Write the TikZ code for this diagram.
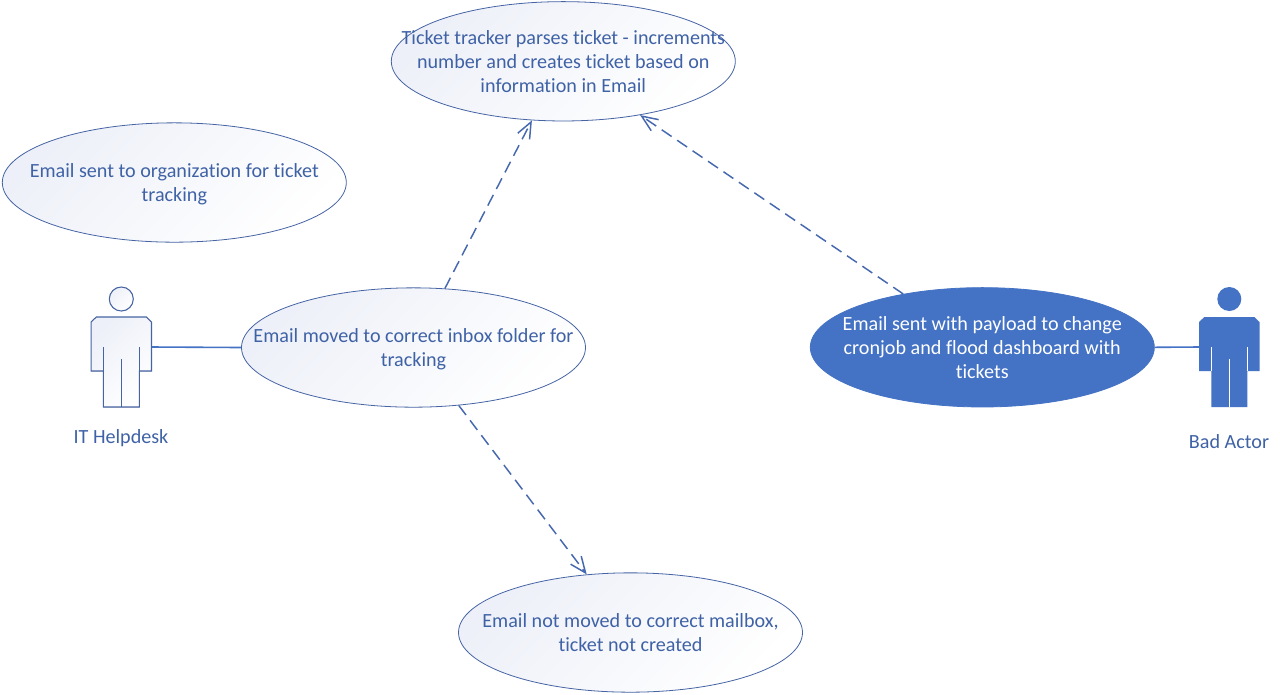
\documentclass[tikz,border=0pt]{standalone}
\usepackage{fontspec}
\setmainfont{Carlito}[Ligatures=NoCommon]
\usetikzlibrary{shapes.geometric,arrows.meta}
\definecolor{blu}{HTML}{4472C4}
\definecolor{edgeblu}{HTML}{4664A4}
\definecolor{depblu}{HTML}{4668AE}
\definecolor{txt}{HTML}{3F62A6}
\definecolor{shadeblu}{HTML}{EDF0F8}
\newcommand{\lines}[1]{\makebox[0pt]{\smash{\raisebox{-5.1pt}{\begin{tabular}{@{}c@{}}#1\end{tabular}}}}}
\tikzset{
  x=0.75pt,y=-0.75pt,
  usecase/.style={ellipse,draw=edgeblu,line width=0.6pt,minimum width=258pt,minimum height=89.5pt,inner sep=0pt,
    top color=shadeblu,bottom color=white,shading angle=45,text=txt,font=\fontsize{15.1}{18}\selectfont},
  badcase/.style={ellipse,draw=blu,line width=0.6pt,minimum width=258pt,minimum height=89.5pt,inner sep=0pt,
    fill=blu,text=white,font=\fontsize{15.1}{18}\selectfont},
  dep/.style={draw=depblu,line width=1.1pt,dash pattern=on 9pt off 5pt,-{Straight Barb[length=12pt,width=10pt,line width=1.1pt]}},
  assoc/.style={draw=blu,line width=1.2pt},
  anchorbox/.style={inner sep=0pt,minimum width=45.4pt,minimum height=0pt,draw=none},
  actorlabel/.style={text=txt,font=\fontsize{15.1}{18}\selectfont,inner sep=0pt},
  actorline/.style={draw=edgeblu,line width=0.8pt},
}
\newcommand{\actorbody}{(-25,-30) -- (25,-30) -- (30.2,-25) -- (30.2,24) -- (18,24) -- (18,60) -- (-18,60) -- (-18,24) -- (-30.2,24) -- (-30.2,-25) -- cycle}
\begin{document}
\begin{tikzpicture}
\path[use as bounding box,fill=white] (0,0) rectangle (1280,694);
% use cases
\node[usecase] (ticket) at (563.3,61.3) {\lines{Ticket tracker parses ticket - increments\\number and creates ticket based on\\information in Email}};
\node[usecase] (org) at (174.3,182.5) {\lines{Email sent to organization for ticket\\tracking}};
\node[usecase] (moved) at (413.5,347.5) {\lines{Email moved to correct inbox folder for\\tracking}};
\node[usecase] (notmoved) at (630.5,632.5) {\lines{Email not moved to correct mailbox,\\ticket not created}};
\node[badcase] (payload) at (982.3,347.3) {\lines{Email sent with payload to change\\cronjob and flood dashboard with\\tickets}};
% IT Helpdesk actor
\begin{scope}[shift={(121.3,347)}]
  \node[anchorbox] (helpdesk) at (0,0) {};
  \filldraw[actorline,top color=shadeblu,bottom color=white,shading angle=45] \actorbody;
  \filldraw[actorline,top color=shadeblu,bottom color=white,shading angle=45] (0,-48) circle[radius=12];
  \draw[actorline] (-18,0) -- (-18,24) (18,0) -- (18,24) (0,12) -- (0,60);
\end{scope}
% Bad Actor
\begin{scope}[shift={(1229.3,347)}]
  \node[anchorbox] (bad) at (0,0) {};
  \fill[blu] \actorbody;
  \fill[blu] (0,-48) circle[radius=12];
  \draw[white,line width=0.5pt] (-18,0) -- (-18,24) (18,0) -- (18,24) (0,12) -- (0,60);
\end{scope}
\node[actorlabel] (helpdesklabel) at (121,438.5) {IT Helpdesk};
\node[actorlabel] (badlabel) at (1229,442) {Bad Actor};
% connectors
\draw[assoc] (helpdesk.east) -- (moved.west);
\draw[assoc] (payload.east) -- (bad.west);
\draw[dep] (moved.62) -- (ticket.242);
\draw[dep] (moved.-52) -- (notmoved.127.7);
\draw[dep] (payload.146) -- (ticket.-35);
\end{tikzpicture}
\end{document}
